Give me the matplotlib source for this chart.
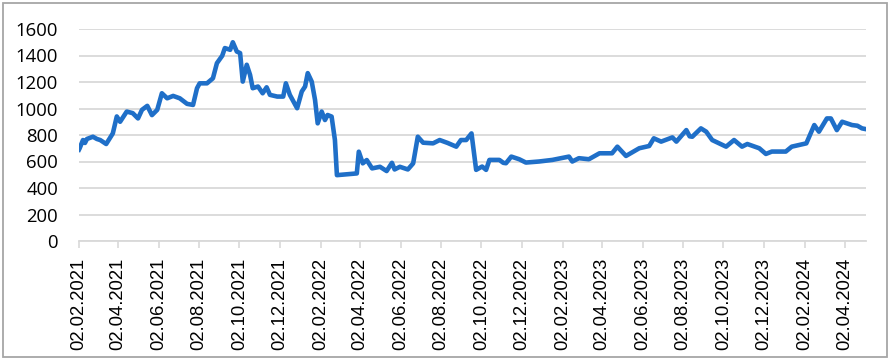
import matplotlib
matplotlib.use("Agg")
import matplotlib.pyplot as plt
import matplotlib.dates as mdates
import pandas as pd
from matplotlib.patches import Rectangle

dates = [
    "2021-02-02", "2021-02-03", "2021-02-08", "2021-02-11", "2021-02-14", "2021-02-23", "2021-03-01",
    "2021-03-06", "2021-03-15",
    "2021-03-25", "2021-03-31", "2021-04-05", "2021-04-15", "2021-04-24", "2021-05-02",
    "2021-05-08", "2021-05-16", "2021-05-23", "2021-05-31", "2021-06-07", "2021-06-15",
    "2021-06-24", "2021-07-04", "2021-07-15", "2021-07-24", "2021-07-30", "2021-08-03",
    "2021-08-14", "2021-08-23", "2021-08-29", "2021-09-06", "2021-09-10", "2021-09-18",
    "2021-09-22", "2021-09-28", "2021-10-03", "2021-10-07", "2021-10-13", "2021-10-18",
    "2021-10-22", "2021-10-30", "2021-11-06", "2021-11-12", "2021-11-17", "2021-11-28",
    "2021-12-07", "2021-12-11", "2021-12-17", "2021-12-28", "2022-01-04", "2022-01-09",
    "2022-01-13", "2022-01-19", "2022-01-24", "2022-01-28", "2022-02-03", "2022-02-08",
    "2022-02-12", "2022-02-18", "2022-02-23", "2022-02-26", "2022-03-28", "2022-03-31",
    "2022-04-06", "2022-04-12", "2022-04-20", "2022-05-02", "2022-05-12", "2022-05-20",
    "2022-05-24", "2022-06-01", "2022-06-13", "2022-06-21", "2022-06-28", "2022-07-06",
    "2022-07-21", "2022-07-31", "2022-08-12", "2022-08-25", "2022-09-01", "2022-09-09",
    "2022-09-17", "2022-09-24", "2022-10-03", "2022-10-09", "2022-10-14", "2022-10-29",
    "2022-11-04", "2022-11-08", "2022-11-16", "2022-11-28", "2022-12-08", "2022-12-28", "2023-01-17",
    "2023-02-11", "2023-02-16", "2023-02-26", "2023-03-13", "2023-03-29", "2023-04-17",
    "2023-04-25", "2023-05-08", "2023-05-28", "2023-06-12", "2023-06-19", "2023-06-30",
    "2023-07-17", "2023-07-23", "2023-08-07", "2023-08-12", "2023-08-16", "2023-08-29", "2023-09-06",
    "2023-09-15", "2023-10-06", "2023-10-18", "2023-10-30", "2023-11-07", "2023-11-25",
    "2023-12-05", "2023-12-14", "2024-01-04", "2024-01-13", "2024-02-04", "2024-02-16",
    "2024-02-23", "2024-03-06", "2024-03-12", "2024-03-21", "2024-03-29", "2024-04-13",
    "2024-04-21", "2024-04-28", "2024-05-03",
]
values = [
    690, 700, 762, 740, 770, 787, 770,
    762, 732,
    812, 940, 900, 977, 965, 925,
    990, 1020, 950, 990, 1115, 1077,
    1095, 1077, 1035, 1027, 1153, 1190,
    1190, 1228, 1342, 1398, 1456, 1443,
    1500, 1430, 1418, 1203, 1330, 1254,
    1153, 1166, 1115, 1160, 1103, 1090,
    1090, 1190, 1103, 1002, 1128, 1166,
    1267, 1203, 1065, 888, 977, 913,
    951, 939, 762, 497, 510, 674,
    586, 611, 548, 560, 528, 590,
    540, 560, 540, 586, 787, 742,
    737, 762, 740, 712, 762, 762,
    812, 537, 562, 537, 612, 612,
    590, 587, 637, 617, 592, 600, 612,
    637, 600, 625, 617, 662, 662,
    712, 642, 700, 717, 775, 750,
    782, 750, 837, 790, 787, 850, 825,
    762, 712, 762, 712, 732, 700,
    657, 675, 675, 712, 737, 875,
    825, 925, 925, 837, 900, 875,
    870, 850, 845,
]
tick_dates = [
    "2021-02-02", "2021-04-02", "2021-06-02", "2021-08-02", "2021-10-02", "2021-12-02",
    "2022-02-02", "2022-04-02", "2022-06-02", "2022-08-02", "2022-10-02", "2022-12-02",
    "2023-02-02", "2023-04-02", "2023-06-02", "2023-08-02", "2023-10-02", "2023-12-02",
    "2024-02-02", "2024-04-02",
]
y_ticks = [0, 200, 400, 600, 800, 1000, 1200, 1400, 1600]

x = pd.to_datetime(dates)
xt = pd.to_datetime(tick_dates)

W, H = 893, 363
fig = plt.figure(figsize=(W / 100, H / 100), dpi=100)
ax = fig.add_axes([79 / W, 1 - 241 / H, (866 - 79) / W, (241 - 29) / H])

grid_c = "#D9D9D9"
ax.plot(x, values, color="#1F6FC8", lw=3.3, solid_joinstyle="round", zorder=3)

ax.set_ylim(0, 1600)
ax.set_yticks(y_ticks)
ax.set_xlim(pd.Timestamp("2021-02-02"), pd.Timestamp("2024-05-04"))
ax.set_xticks(xt)
ax.set_xticklabels([d.strftime("%d.%m.%Y") for d in xt], rotation=90,
                   fontfamily="Liberation Sans", fontsize=13.3)
for lab in ax.get_yticklabels():
    lab.set_fontfamily("Open Sans")
    lab.set_fontsize(13.3)

ax.grid(axis="y", color=grid_c, lw=1.3, zorder=0)
for s in ["top", "right", "left"]:
    ax.spines[s].set_visible(False)
ax.spines["bottom"].set_color(grid_c)
ax.spines["bottom"].set_linewidth(1.3)
ax.tick_params(axis="y", length=0, pad=15, colors="black")
ax.tick_params(axis="x", length=5, width=1.2, color=grid_c, pad=7, labelcolor="black")

fig.patches.append(Rectangle((3 / W, 1 - 357 / H), (887 - 3) / W, (357 - 3) / H,
                             transform=fig.transFigure, fill=False,
                             edgecolor="#A6A6A6", lw=1.3))

fig.savefig("out.png", dpi=100)
